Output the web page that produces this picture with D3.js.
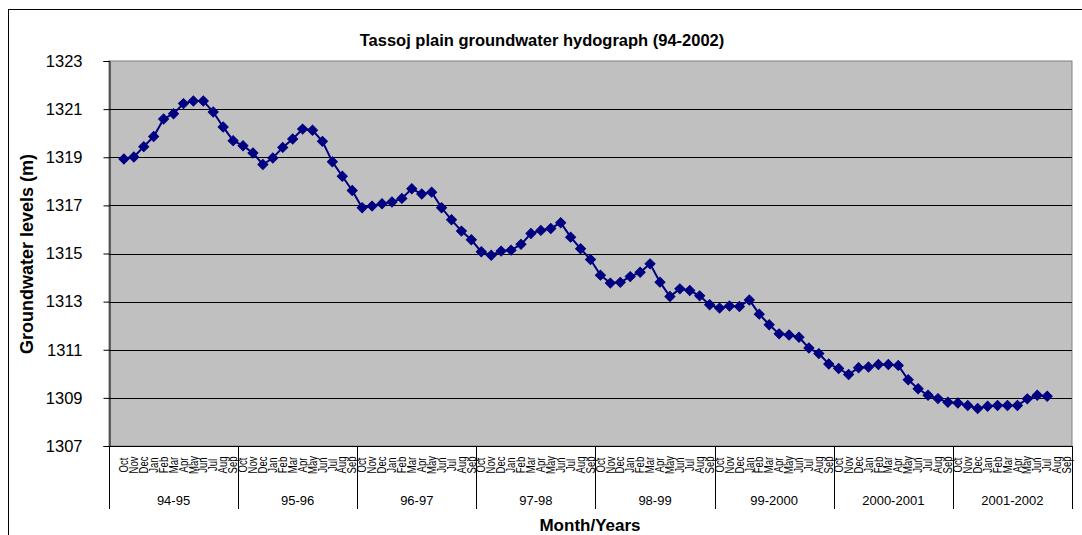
<!DOCTYPE html>
<html>
<head>
<meta charset="utf-8">
<script src="https://cdn.jsdelivr.net/npm/d3@7"></script>
<style>
  body { margin: 0; background: #ffffff; }
  text { font-family: "Liberation Sans", Arial, sans-serif; fill: #000; }
</style>
</head>
<body>
<div id="chart"></div>
<script>
// hydrological years and months on the category axis
var years = ["94-95", "95-96", "96-97", "97-98", "98-99", "99-2000", "2000-2001", "2001-2002"];
var months = ["Oct", "Nov", "Dec", "Jan", "Feb", "Mar", "Apr", "May", "Jun", "Jul", "Aug", "Sep"];

// groundwater levels (m), one array per year, Oct..Sep
var lv9495 = [1318.93, 1319.01, 1319.44, 1319.86, 1320.59, 1320.81, 1321.23, 1321.34, 1321.34, 1320.88, 1320.26, 1319.69];
var lv9596 = [1319.48, 1319.18, 1318.70, 1318.97, 1319.41, 1319.76, 1320.17, 1320.12, 1319.66, 1318.81, 1318.21, 1317.62];
var lv9697 = [1316.90, 1316.97, 1317.07, 1317.14, 1317.29, 1317.69, 1317.47, 1317.55, 1316.90, 1316.40, 1315.93, 1315.57];
var lv9798 = [1315.07, 1314.93, 1315.10, 1315.14, 1315.38, 1315.83, 1315.96, 1316.04, 1316.28, 1315.68, 1315.20, 1314.75];
var lv9899 = [1314.10, 1313.77, 1313.80, 1314.04, 1314.22, 1314.57, 1313.81, 1313.21, 1313.53, 1313.46, 1313.24, 1312.87];
var lv9900 = [1312.73, 1312.82, 1312.80, 1313.07, 1312.48, 1312.04, 1311.66, 1311.61, 1311.52, 1311.07, 1310.84, 1310.41];
var lv0001 = [1310.22, 1309.97, 1310.25, 1310.28, 1310.39, 1310.39, 1310.35, 1309.75, 1309.38, 1309.11, 1308.97, 1308.82];
var lv0102 = [1308.79, 1308.68, 1308.56, 1308.65, 1308.68, 1308.68, 1308.68, 1308.96, 1309.11, 1309.07];

var yTicks = [1307, 1309, 1311, 1313, 1315, 1317, 1319, 1321, 1323];

var svgWidth = 1082;
var svgHeight = 535;

// plot area in pixels
var plot = { left: 109, right: 1072, top: 61, bottom: 446 };

var svg = d3.select("#chart")
  .append("svg")
  .attr("width", svgWidth)
  .attr("height", svgHeight);

// chart border (only top and left are visible in the frame)
svg.append("rect")
  .attr("x", 8.5)
  .attr("y", 9.5)
  .attr("width", 1200)
  .attr("height", 700)
  .attr("fill", "#fff")
  .attr("stroke", "#000");

// build category keys: one blank slot first, then year|month
var levelsByYear = [lv9495, lv9596, lv9697, lv9798, lv9899, lv9900, lv0001, lv0102];
var cats = ["blank"];
var points = [];
years.forEach(function(yr, i) {
  months.forEach(function(m, j) {
    var key = yr + "|" + m;
    cats.push(key);
    if (j < levelsByYear[i].length) {
      points.push({ key: key, value: levelsByYear[i][j] });
    }
  });
});

var xScale = d3.scaleBand()
  .domain(cats)
  .range([plot.left, plot.right])
  .padding(0);

var yScale = d3.scaleLinear()
  .domain([1307, 1323])
  .range([plot.bottom, plot.top]);

var xc = function(key) { return xScale(key) + xScale.bandwidth() / 2; };

// plot background
svg.append("rect")
  .attr("x", plot.left)
  .attr("y", plot.top)
  .attr("width", plot.right - plot.left)
  .attr("height", plot.bottom - plot.top)
  .attr("fill", "#c0c0c0")
  .attr("stroke", "#808080");

// gridlines
svg.append("g")
  .selectAll("line")
  .data(yTicks.slice(1, -1))
  .enter()
  .append("line")
  .attr("x1", plot.left)
  .attr("x2", plot.right)
  .attr("y1", d => Math.round(yScale(d)) + 0.5)
  .attr("y2", d => Math.round(yScale(d)) + 0.5)
  .attr("stroke", "#000")
  .attr("stroke-width", 1);

// y axis
var leftAxis = d3.axisLeft(yScale)
  .tickValues(yTicks)
  .tickSize(6)
  .tickPadding(21)
  .tickFormat(d3.format("d"));

var yAxisG = svg.append("g")
  .attr("transform", `translate(${plot.left + 0.5}, 0)`)
  .call(leftAxis);
yAxisG.select(".domain").attr("stroke", "#000");
yAxisG.selectAll("text")
  .style("font-family", "Liberation Sans, Arial, sans-serif")
  .style("font-size", "16.5px");

// x axis baseline
svg.append("line")
  .attr("x1", plot.left)
  .attr("x2", plot.right)
  .attr("y1", plot.bottom + 0.5)
  .attr("y2", plot.bottom + 0.5)
  .attr("stroke", "#000");

// year group separators
var groupEdges = [plot.left];
years.forEach(function(yr) {
  groupEdges.push(xScale(yr + "|Sep") + xScale.bandwidth());
});

svg.append("g")
  .selectAll("line")
  .data(groupEdges)
  .enter()
  .append("line")
  .attr("x1", d => Math.round(d) + 0.5)
  .attr("x2", d => Math.round(d) + 0.5)
  .attr("y1", plot.bottom)
  .attr("y2", 509)
  .attr("stroke", "#000");

// month labels (glyphs a bit wider, as in the original)
svg.append("g")
  .selectAll("text")
  .data(cats.slice(1))
  .enter()
  .append("text")
  .attr("transform", d => `translate(${xc(d)}, 465) rotate(-90) scale(1, 1.25)`)
  .attr("text-anchor", "middle")
  .attr("dy", "0.35em")
  .style("font-size", "9.5px")
  .text(d => d.split("|")[1]);

// year labels
svg.append("g")
  .selectAll("text")
  .data(years)
  .enter()
  .append("text")
  .attr("x", (d, i) => (groupEdges[i] + groupEdges[i + 1]) / 2)
  .attr("y", 505)
  .attr("text-anchor", "middle")
  .style("font-size", "13px")
  .text(d => d);

// series line
var line = d3.line()
  .x(d => xc(d.key))
  .y(d => yScale(d.value));

svg.append("path")
  .datum(points)
  .attr("d", line)
  .attr("fill", "none")
  .attr("stroke", "#000080")
  .attr("stroke-width", 2);

// diamond markers
var diamond = d3.symbol().type(d3.symbolSquare).size(50);
svg.append("g")
  .selectAll("path")
  .data(points)
  .enter()
  .append("path")
  .attr("d", diamond)
  .attr("transform", d => `translate(${xc(d.key)}, ${yScale(d.value)}) rotate(45)`)
  .attr("fill", "#000080")
  .attr("stroke", "#000080")
  .attr("stroke-width", 1);

// titles
svg.append("text")
  .attr("x", 542)
  .attr("y", 46)
  .attr("text-anchor", "middle")
  .style("font-size", "16.5px")
  .style("font-weight", "bold")
  .text("Tassoj plain groundwater hydograph (94-2002)");

svg.append("text")
  .attr("x", 590)
  .attr("y", 531)
  .attr("text-anchor", "middle")
  .style("font-size", "17px")
  .style("font-weight", "bold")
  .text("Month/Years");

svg.append("text")
  .attr("transform", "translate(33, 254) rotate(-90)")
  .attr("text-anchor", "middle")
  .style("font-size", "18px")
  .style("font-weight", "bold")
  .text("Groundwater levels (m)");
</script>
</body>
</html>
